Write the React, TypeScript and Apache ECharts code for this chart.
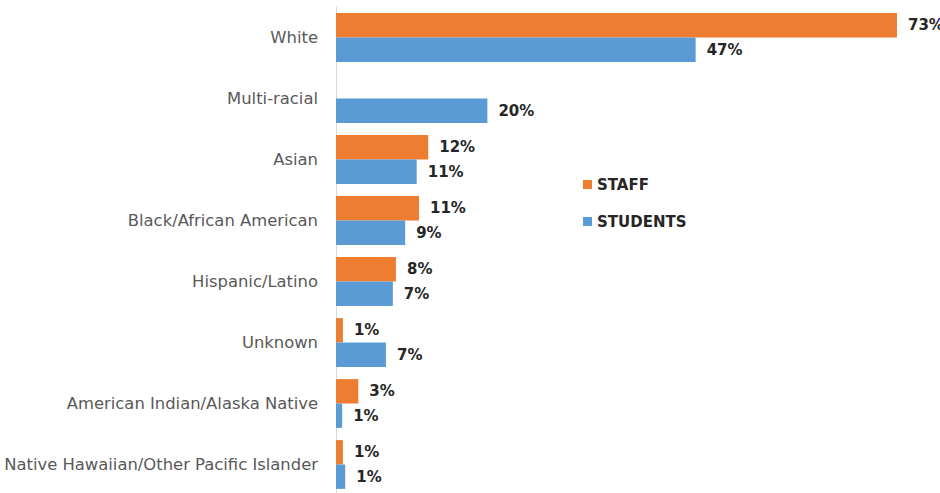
import React, { useEffect, useRef } from "react";
import * as echarts from "echarts";

const categories = [
  "White",
  "Multi-racial",
  "Asian",
  "Black/African American",
  "Hispanic/Latino",
  "Unknown",
  "American Indian/Alaska Native",
  "Native Hawaiian/Other Pacific Islander",
];
const staffValues: (number | null)[] = [73, null, 12, 10.8, 7.8, 0.9, 2.9, 0.9];
const studentValues: (number | null)[] = [46.8, 19.7, 10.5, 9, 7.4, 6.5, 0.8, 1.2];

const FONT = "'DejaVu Sans', sans-serif";

export default function App() {
  const ref = useRef<HTMLDivElement>(null);
  useEffect(() => {
    const chart = echarts.init(ref.current!, null, { renderer: "svg" });
    const label = {
      show: true,
      position: "right" as const,
      distance: 11,
      fontFamily: FONT,
      fontWeight: "bold" as const,
      fontSize: 15,
      color: "#262626",
      formatter: (p: any) => `${Math.round(p.value)}%`,
    };
    chart.setOption({
      animation: false,
      backgroundColor: "#ffffff",
      grid: {
        left: 336,
        right: 43,
        top: 7,
        bottom: -2,
        containLabel: false,
        outerBoundsMode: "none",
      },
      legend: {
        orient: "vertical",
        left: 578,
        top: 172,
        itemWidth: 9,
        itemHeight: 9,
        itemGap: 22,
        icon: "rect",
        textStyle: { fontFamily: FONT, fontWeight: "bold", fontSize: 15, color: "#262626" },
        data: ["STAFF", "STUDENTS"],
      },
      xAxis: {
        type: "value",
        min: 0,
        max: 73,
        show: false,
        splitLine: { show: false },
      },
      yAxis: {
        type: "category",
        data: categories,
        inverse: true,
        axisTick: { show: false },
        axisLine: { show: true, lineStyle: { color: "#d9d9d9", width: 1 } },
        axisLabel: { margin: 18, fontFamily: FONT, fontSize: 16.4, color: "#595959" },
      },
      series: [
        {
          name: "STAFF",
          type: "bar",
          data: staffValues,
          itemStyle: { color: "#ED7D31" },
          barGap: "0%",
          barCategoryGap: "20%",
          label,
        },
        {
          name: "STUDENTS",
          type: "bar",
          data: studentValues,
          itemStyle: { color: "#5B9BD5" },
          barGap: "0%",
          barCategoryGap: "20%",
          label,
        },
      ],
    });
    return () => chart.dispose();
  }, []);
  return (
    <div
      ref={ref}
      style={{ position: "fixed", left: 0, top: 0, width: 940, height: 493 }}
    />
  );
}
